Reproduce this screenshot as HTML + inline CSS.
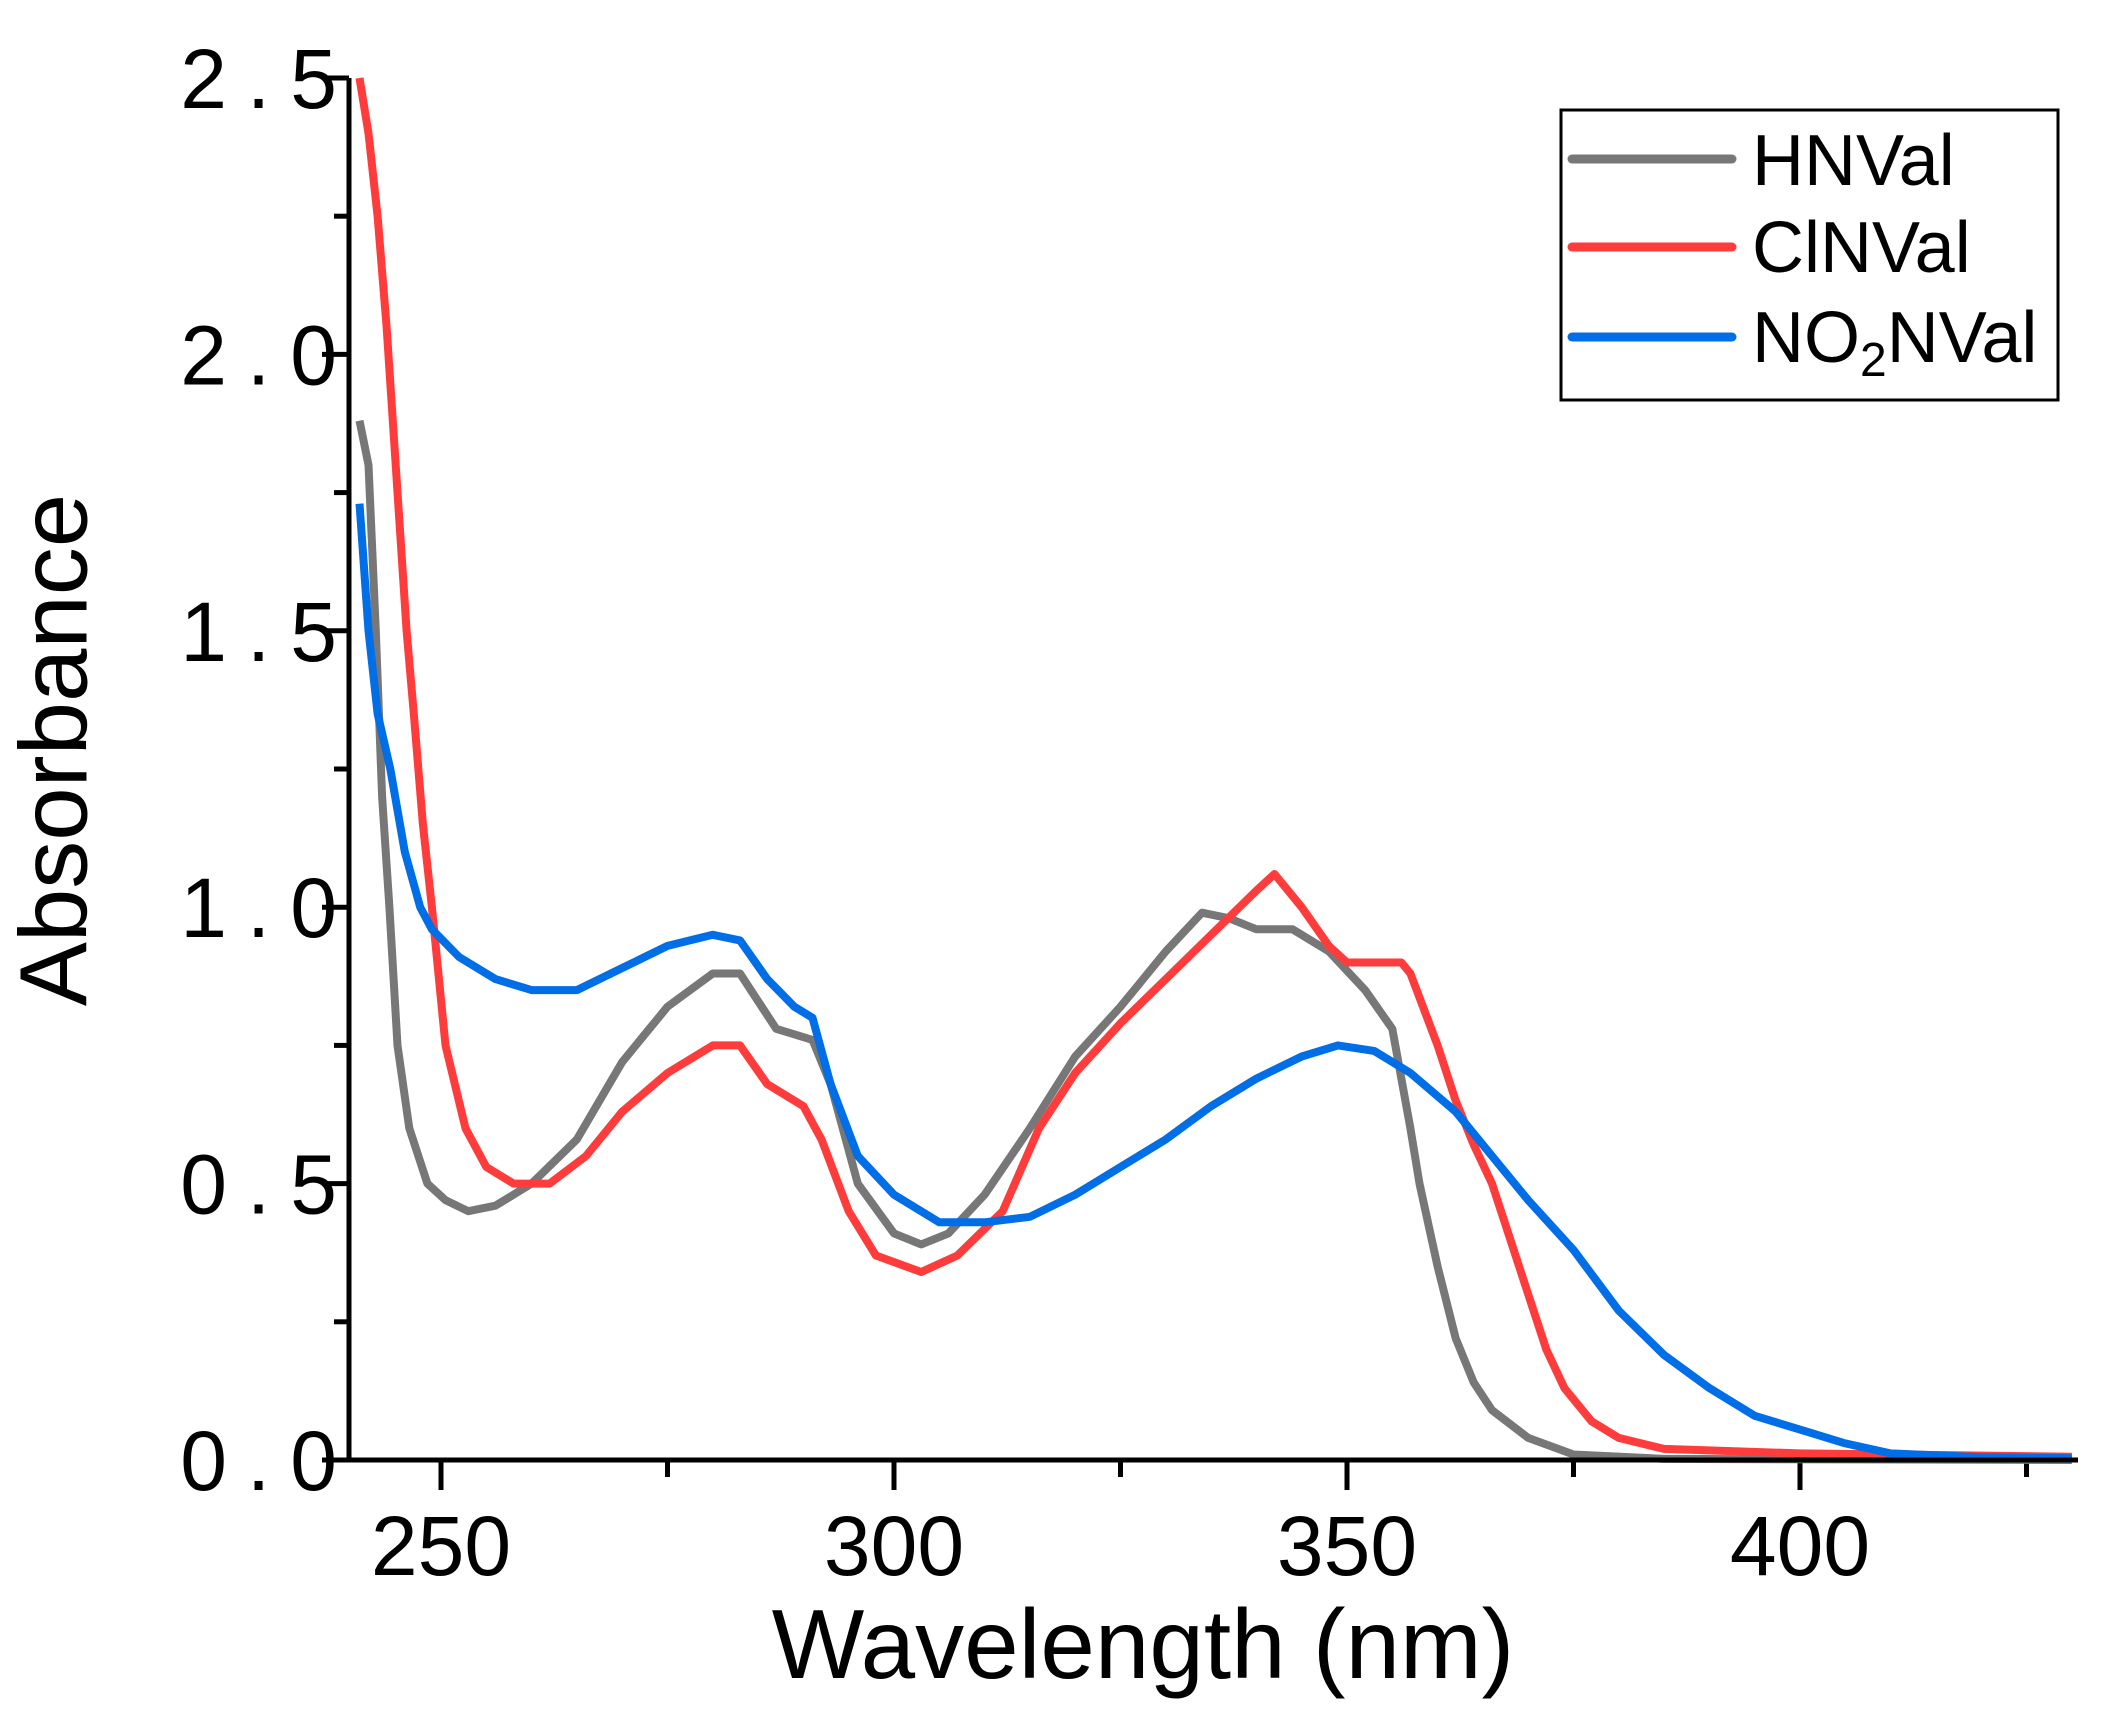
<!DOCTYPE html>
<html><head><meta charset="utf-8"><style>
html,body{margin:0;padding:0;background:#fff;}
svg{display:block;}
text{font-family:"Liberation Sans",Arial,sans-serif;fill:#000;}
</style></head><body>
<svg id="s" width="2103" height="1718" viewBox="0 0 2103 1718" xmlns="http://www.w3.org/2000/svg">
<g id="axes" stroke="#000" stroke-width="5" fill="none"></g>
<g id="curves" fill="none" stroke-width="8" stroke-linejoin="round"></g>
<g id="labels"></g>
<line x1="349" y1="78" x2="349" y2="1462" stroke="#000" stroke-width="5"/>
<line x1="347" y1="1460" x2="2078" y2="1460" stroke="#000" stroke-width="5"/>
<text x="61" y="750" font-size="96" text-anchor="middle" transform="rotate(-90 61 750)" dominant-baseline="middle">Absorbance</text>
<text x="1143" y="1678" font-size="98" text-anchor="middle">Wavelength (nm)</text>
<rect x="1561" y="110" width="497" height="290" fill="#fff" stroke="#000" stroke-width="3"/>
<line x1="1572" y1="159" x2="1732" y2="159" stroke="#777" stroke-width="9" stroke-linecap="round"/>
<line x1="1572" y1="247" x2="1732" y2="247" stroke="#ff3c3c" stroke-width="9" stroke-linecap="round"/>
<line x1="1572" y1="337" x2="1732" y2="337" stroke="#006ee6" stroke-width="9" stroke-linecap="round"/>
<text x="1752" y="185" font-size="72">HNVal</text>
<text x="1752" y="272" font-size="72">ClNVal</text>
<text x="1752" y="362" font-size="72">NO<tspan font-size="48" dy="14">2</tspan><tspan dy="-14">NVal</tspan></text>
</svg>
<script>
var X=function(n){return 441+(n-250)*9.06;};
var Y=function(a){return 1460-a*552.8;};
var NS="http://www.w3.org/2000/svg";
var ax=document.getElementById('axes'),lb=document.getElementById('labels'),cv=document.getElementById('curves');
function el(p,t,a){var e=document.createElementNS(NS,t);for(var k in a)e.setAttribute(k,a[k]);p.appendChild(e);return e;}
for(var i=0;i<=10;i++){var v=i*0.25,y=Y(v),maj=(i%2==0);
 el(ax,'line',{x1:maj?322:334,y1:y,x2:349,y2:y});
 if(maj){var t=el(lb,'text',{x:357,y:y+30,'font-size':84,'letter-spacing':20,'text-anchor':'end'});t.textContent=v.toFixed(1);}}
for(var n=250;n<=425;n+=25){var x=X(n),maj=(n%50==0);
 el(ax,'line',{x1:x,y1:1460,x2:x,y2:maj?1490:1477});
 if(maj){var t=el(lb,'text',{x:x,y:1575,'font-size':84,'text-anchor':'middle'});t.textContent=n;}}
var data={
"#777":[[241,1.88],[242,1.8],[242.8,1.5],[243.5,1.2],[244.3,1.0],[245.2,0.75],[246.5,0.6],[248.5,0.5],[250.5,0.47],[253,0.45],[256,0.46],[260,0.5],[265,0.58],[270,0.72],[275,0.82],[280,0.88],[283,0.88],[287,0.78],[291,0.76],[293,0.68],[296,0.5],[300,0.41],[303,0.39],[306,0.41],[310,0.48],[315,0.6],[320,0.73],[325,0.82],[330,0.92],[334,0.99],[337,0.98],[340,0.96],[344,0.96],[348,0.92],[352,0.85],[355,0.78],[357,0.6],[358,0.5],[360,0.35],[362,0.22],[364,0.14],[366,0.09],[370,0.04],[375,0.01],[385,0.002],[430,0.0]],
"#ff3c3c":[[241,2.5],[242,2.4],[243,2.25],[244,2.05],[245,1.8],[246.2,1.5],[247,1.35],[248,1.15],[249,1.0],[250.5,0.75],[252.7,0.6],[255,0.53],[258,0.5],[262,0.5],[266,0.55],[270,0.63],[275,0.7],[280,0.75],[283,0.75],[286,0.68],[290,0.64],[292,0.58],[295,0.45],[298,0.37],[303,0.34],[307,0.37],[312,0.45],[316,0.6],[320,0.7],[325,0.79],[330,0.87],[335,0.95],[340,1.03],[342,1.06],[345,1.0],[348,0.93],[350,0.9],[356,0.9],[357,0.88],[360,0.75],[362,0.65],[364,0.57],[366,0.5],[368,0.4],[370,0.3],[372,0.2],[374,0.13],[377,0.07],[380,0.04],[385,0.02],[400,0.012],[430,0.006]],
"#006ee6":[[241,1.73],[242,1.5],[243,1.35],[244.4,1.25],[246,1.1],[247.7,1.0],[249,0.96],[252,0.91],[256,0.87],[260,0.85],[265,0.85],[270,0.89],[275,0.93],[280,0.95],[283,0.94],[286,0.87],[289,0.82],[291,0.8],[293,0.68],[296,0.55],[300,0.48],[305,0.43],[310,0.43],[315,0.44],[320,0.48],[325,0.53],[330,0.58],[335,0.64],[340,0.69],[345,0.73],[349,0.75],[353,0.74],[357,0.7],[362,0.63],[366,0.55],[370,0.47],[375,0.38],[380,0.27],[385,0.19],[390,0.13],[395,0.08],[400,0.055],[405,0.03],[410,0.012],[420,0.005],[430,0.003]]};
for(var c in data){var d=data[c].map(function(p){return X(p[0]).toFixed(1)+','+Y(p[1]).toFixed(1);}).join(' ');
 el(cv,'polyline',{points:d,stroke:c});}
</script>
</body></html>
